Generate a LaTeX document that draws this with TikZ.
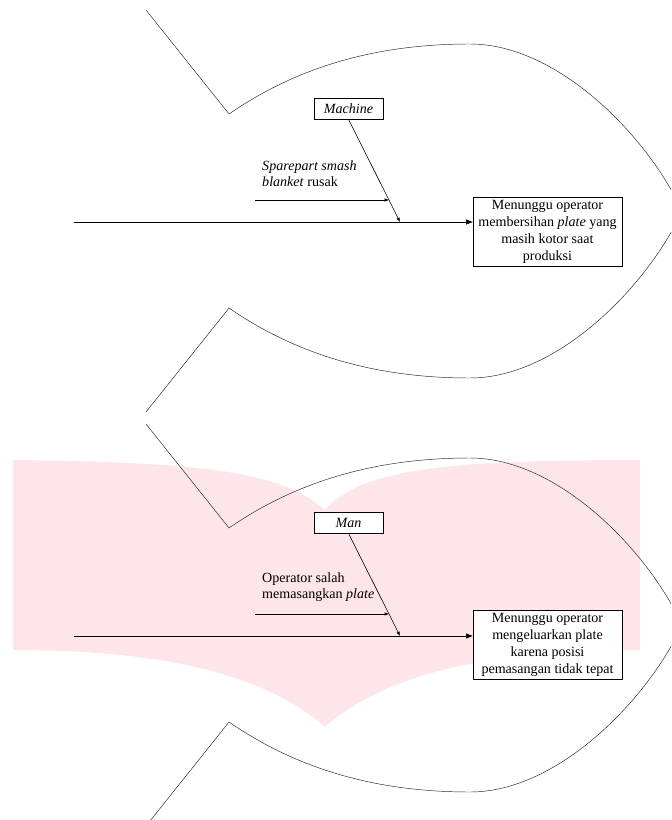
\documentclass[tikz,border=0pt]{standalone}
\usepackage{fontspec}
\setmainfont{Liberation Serif}
\usetikzlibrary{positioning,arrows.meta}

\begin{document}
\begin{tikzpicture}[
  x=0.03cm, y=-0.03cm,
  font=\fontsize{12}{14.5}\selectfont,
  wmark/.style={fill={rgb,255:red,253;green,229;blue,233}, draw=none},
  fish/.style={draw=black!85, line width=0.4pt},
  catbox/.style={rectangle, draw=black, line width=0.5pt, fill=white,
                 minimum width=2.07cm, minimum height=0.63cm, inner sep=1pt,
                 font=\fontsize{12}{14}\selectfont\itshape},
  effbox/.style={rectangle, draw=black, line width=0.5pt, fill=white, align=center,
                 minimum width=4.47cm, minimum height=2.07cm, inner sep=1pt},
  lbl/.style={anchor=west, align=left, inner sep=0pt, font=\fontsize{12}{13.6}\selectfont},
  spine/.style={-{Triangle[length=2mm,width=1.5mm]}, line width=0.6pt},
  bone/.style={-{Latex[length=1.3mm,width=1mm]}, line width=0.5pt}
]
\clip (0,0) rectangle (671,820);

% watermark behind the lower diagram
\fill[wmark] (13,460) -- (13,650) .. controls (150,650) and (260,670) .. (325,727)
  .. controls (390,670) and (500,650) .. (640,650) -- (640,460)
  .. controls (440,460) and (360,470) .. (325,510)
  .. controls (285,475) and (220,462) .. (13,460) -- cycle;

% fish outlines
\foreach \dy in {0,414} {
  \begin{scope}[shift={(0,\dy)}]
    \draw[fish] (146,10) -- (229,114) .. controls (300,65) and (380,44) .. (470,44)
      .. controls (560,44) and (650,140) .. (682,211)
      .. controls (650,282) and (560,378) .. (470,378)
      .. controls (380,378) and (300,357) .. (229,308) -- (146,412);
  \end{scope}
}

% Machine
\node[effbox] (eff1) at (547.5,231.5) {Menunggu operator\\membersihan \textit{plate} yang\\masih kotor saat\\produksi};
\node[catbox] (mach) at (348.5,108.5) {Machine};
\node[lbl] (c1) at (262,174) {\textit{Sparepart smash}\\\textit{blanket} rusak};
\coordinate (s1) at (74,222);
\coordinate (h1) at (400,222);
\coordinate (a1) at (255,200);
\coordinate (b1) at (389,200);

\draw[spine] (s1) -- (s1 -| eff1.west);
\draw[bone] (mach.south) -- (h1);
\draw[bone] (a1) -- (b1);

% Man
\node[effbox] (eff2) at (547.5,645) {Menunggu operator\\mengeluarkan plate\\karena posisi\\pemasangan tidak tepat};
\node[catbox] (man) at (348.5,522.5) {Man};
\node[lbl] (c2) at (262,587.5) {Operator salah\\memasangkan \textit{plate}};
\coordinate (s2) at (74,636);
\coordinate (h2) at (400,636);
\coordinate (a2) at (255,614);
\coordinate (b2) at (389,614);

\draw[spine] (s2) -- (s2 -| eff2.west);
\draw[bone] (man.south) -- (h2);
\draw[bone] (a2) -- (b2);
\end{tikzpicture}
\end{document}
